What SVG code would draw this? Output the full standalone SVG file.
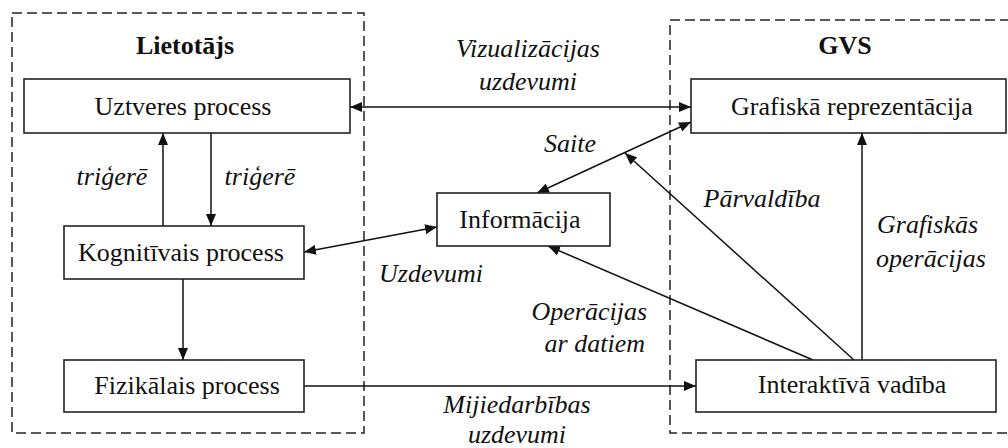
<svg xmlns="http://www.w3.org/2000/svg" width="1008" height="448" viewBox="0 0 1008 448">
<defs>
<marker id="ah" viewBox="0 0 12 10" refX="12" refY="5" markerWidth="12" markerHeight="10" markerUnits="userSpaceOnUse" orient="auto-start-reverse">
<path d="M0,0 L12,5 L0,10 z" fill="#111"/>
</marker>
</defs>
<rect width="1008" height="448" fill="#fff"/>
<g id="group-lietotajs">
<rect x="12" y="13" width="352" height="420" fill="none" stroke="#222" stroke-width="1.5" stroke-dasharray="10 5"/>
<text style="font-family:'Liberation Serif','Times New Roman',serif;font-size:26px;font-weight:bold" fill="#111" text-anchor="middle" x="185" y="54">Lietotājs</text>
</g>
<g id="group-gvs">
<path d="M1010,20 L670,20 L670,433 L1010,433" fill="none" stroke="#222" stroke-width="1.5" stroke-dasharray="10 5"/>
<text style="font-family:'Liberation Serif','Times New Roman',serif;font-size:26px;font-weight:bold" fill="#111" text-anchor="middle" x="845" y="54">GVS</text>
</g>
<g id="connectors" stroke="#111" stroke-width="1.5" fill="none">
<line x1="350" y1="107" x2="691" y2="107" marker-start="url(#ah)" marker-end="url(#ah)"/>
<line x1="163" y1="226" x2="163" y2="133" marker-end="url(#ah)"/>
<line x1="211" y1="133" x2="211" y2="226" marker-end="url(#ah)"/>
<line x1="183" y1="279" x2="183" y2="360" marker-end="url(#ah)"/>
<line x1="304" y1="386" x2="696" y2="386" marker-end="url(#ah)"/>
<line x1="304" y1="252" x2="437" y2="227" marker-start="url(#ah)" marker-end="url(#ah)"/>
<line x1="537" y1="193" x2="691" y2="122" marker-start="url(#ah)" marker-end="url(#ah)"/>
<line x1="862" y1="360" x2="862" y2="133" marker-end="url(#ah)"/>
<line x1="854" y1="360" x2="625" y2="153" marker-end="url(#ah)"/>
<line x1="813" y1="360" x2="548" y2="246" marker-end="url(#ah)"/>
</g>
<g id="labels" fill="#111">
<text style="font-family:'Liberation Serif','Times New Roman',serif;font-size:26px;font-style:italic" x="528" y="57" text-anchor="middle">Vizualizācijas</text>
<text style="font-family:'Liberation Serif','Times New Roman',serif;font-size:26px;font-style:italic" x="528" y="90" text-anchor="middle">uzdevumi</text>
<text style="font-family:'Liberation Serif','Times New Roman',serif;font-size:26px;font-style:italic" x="570" y="152" text-anchor="middle">Saite</text>
<text style="font-family:'Liberation Serif','Times New Roman',serif;font-size:26px;font-style:italic" x="112" y="185" text-anchor="middle">triģerē</text>
<text style="font-family:'Liberation Serif','Times New Roman',serif;font-size:26px;font-style:italic" x="260" y="185" text-anchor="middle">triģerē</text>
<text style="font-family:'Liberation Serif','Times New Roman',serif;font-size:26px;font-style:italic" x="431" y="282" text-anchor="middle">Uzdevumi</text>
<text style="font-family:'Liberation Serif','Times New Roman',serif;font-size:26px;font-style:italic" x="647" y="320" text-anchor="end">Operācijas</text>
<text style="font-family:'Liberation Serif','Times New Roman',serif;font-size:26px;font-style:italic" x="645" y="352" text-anchor="end">ar datiem</text>
<text style="font-family:'Liberation Serif','Times New Roman',serif;font-size:26px;font-style:italic" x="517" y="413" text-anchor="middle">Mijiedarbības</text>
<text style="font-family:'Liberation Serif','Times New Roman',serif;font-size:26px;font-style:italic" x="517" y="443" text-anchor="middle">uzdevumi</text>
<text style="font-family:'Liberation Serif','Times New Roman',serif;font-size:26px;font-style:italic" x="762" y="207" text-anchor="middle">Pārvaldība</text>
<text style="font-family:'Liberation Serif','Times New Roman',serif;font-size:26px;font-style:italic" x="877" y="233">Grafiskās</text>
<text style="font-family:'Liberation Serif','Times New Roman',serif;font-size:26px;font-style:italic" x="876" y="267">operācijas</text>
</g>
<g id="node-uztveres">
<rect x="24" y="79" width="326" height="54" fill="#fff" stroke="#222" stroke-width="1.6"/>
<text style="font-family:'Liberation Serif','Times New Roman',serif;font-size:26px" fill="#111" text-anchor="middle" x="183" y="115">Uztveres process</text>
</g>
<g id="node-kognitivais">
<rect x="64" y="226" width="240" height="53" fill="#fff" stroke="#222" stroke-width="1.6"/>
<text style="font-family:'Liberation Serif','Times New Roman',serif;font-size:26px" fill="#111" text-anchor="middle" x="181" y="261">Kognitīvais process</text>
</g>
<g id="node-fizikalais">
<rect x="64" y="360" width="240" height="52" fill="#fff" stroke="#222" stroke-width="1.6"/>
<text style="font-family:'Liberation Serif','Times New Roman',serif;font-size:26px" fill="#111" text-anchor="middle" x="187" y="394">Fizikālais process</text>
</g>
<g id="node-informacija">
<rect x="437" y="193" width="173" height="53" fill="#fff" stroke="#222" stroke-width="1.6"/>
<text style="font-family:'Liberation Serif','Times New Roman',serif;font-size:26px" fill="#111" text-anchor="middle" x="520" y="228">Informācija</text>
</g>
<g id="node-grafiska">
<rect x="691" y="79" width="315" height="54" fill="#fff" stroke="#222" stroke-width="1.6"/>
<text style="font-family:'Liberation Serif','Times New Roman',serif;font-size:26px" fill="#111" text-anchor="middle" x="852" y="115">Grafiskā reprezentācija</text>
</g>
<g id="node-interaktiva">
<rect x="696" y="360" width="300" height="52" fill="#fff" stroke="#222" stroke-width="1.6"/>
<text style="font-family:'Liberation Serif','Times New Roman',serif;font-size:26px" fill="#111" text-anchor="middle" x="852" y="393">Interaktīvā vadība</text>
</g>
</svg>
